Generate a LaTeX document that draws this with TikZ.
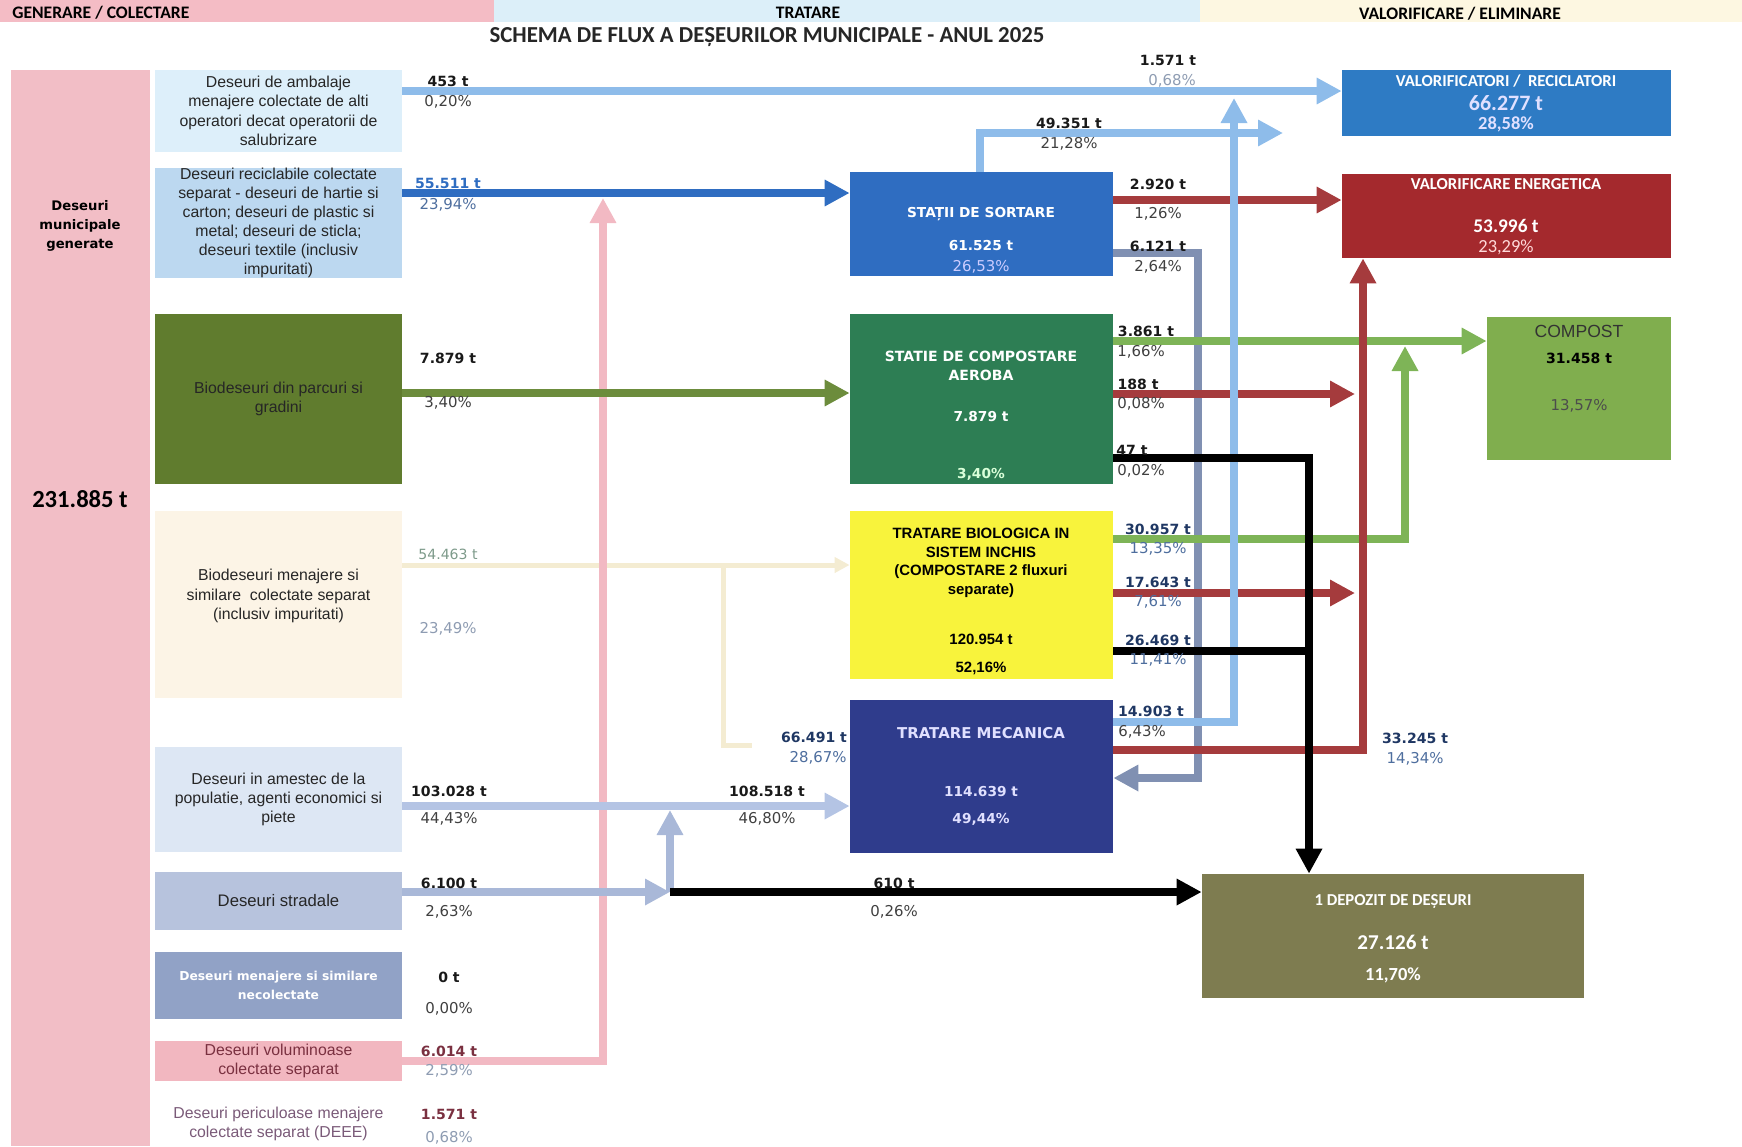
\documentclass[tikz,border=0pt]{standalone}
\usepackage{fontspec}
\setmainfont{Liberation Sans}
\newfontfamily\calib{Carlito}
\newfontfamily\verd{DejaVu Sans}
\usetikzlibrary{arrows.meta,positioning,calc}

\definecolor{hdrpink}{HTML}{F4BCC5}
\definecolor{hdrblue}{HTML}{DCEFF9}
\definecolor{hdrcream}{HTML}{FDF7E1}
\definecolor{colpink}{HTML}{F2BEC6}
\definecolor{srcamb}{HTML}{DDEFFA}
\definecolor{srcrec}{HTML}{BCD8F0}
\definecolor{srcpark}{HTML}{607C2E}
\definecolor{srcbio}{HTML}{FCF4E6}
\definecolor{srcmix}{HTML}{DDE7F4}
\definecolor{srcstr}{HTML}{B7C3DD}
\definecolor{srcnec}{HTML}{91A2C6}
\definecolor{srcvol}{HTML}{F2B7C0}
\definecolor{sortblue}{HTML}{2F6DC1}
\definecolor{aerogreen}{HTML}{2D7E54}
\definecolor{bioyellow}{HTML}{F8F33C}
\definecolor{mecnavy}{HTML}{2F3C8C}
\definecolor{valblue}{HTML}{2E7BC4}
\definecolor{enred}{HTML}{A4292D}
\definecolor{compgreen}{HTML}{80AE4E}
\definecolor{depolive}{HTML}{7E7C50}
\definecolor{fLB}{HTML}{8EBCEA}
\definecolor{fRed}{HTML}{A53B3D}
\definecolor{fGB}{HTML}{8090B2}
\definecolor{fOl}{HTML}{6C8C3C}
\definecolor{fLG}{HTML}{7EB457}
\definecolor{fCr}{HTML}{F4ECD2}
\definecolor{fMix}{HTML}{B4C4E4}
\definecolor{fStr}{HTML}{A9B8D8}
\definecolor{fPk}{HTML}{F2B9C3}
\definecolor{txnavy}{HTML}{1F3763}
\definecolor{txpct}{HTML}{4E6E9E}
\definecolor{txred}{HTML}{7A3040}
\definecolor{txlight}{HTML}{8E9CB2}
\definecolor{txsage}{HTML}{7D9A8A}
\definecolor{txmauve}{HTML}{7A5A78}

\tikzset{
  box/.style={inner sep=0pt, align=center, text=black!85},
  srctxt/.style={font=\fontsize{9}{11}\selectfont},
  hdr/.style={font=\calib\bfseries\fontsize{10}{12}\selectfont, inner sep=0pt},
  flow/.style={line width=1.45mm},
  fat/.style={line width=1.7mm},
  tip/.style={-{Triangle[length=5mm,width=5mm]}},
  num/.style={font=\verd\bfseries\fontsize{8}{10}\selectfont, inner sep=0pt},
  pct/.style={font=\verd\fontsize{8.5}{10}\selectfont, inner sep=0pt},
  ctitle/.style={font=\calib\bfseries\fontsize{9.5}{11}\selectfont, text=white, inner sep=0pt},
  cval/.style={font=\calib\bfseries\fontsize{12}{14}\selectfont, text=white, inner sep=0pt},
  mtitle/.style={font=\verd\bfseries\fontsize{7.8}{10.5}\selectfont, text=white, align=center, inner sep=0pt},
}

\begin{document}
\begin{tikzpicture}[x=0.2mm, y=-0.2mm]
\useasboundingbox (0,0) rectangle (1742,1146);

% header bands
\fill[hdrpink] (0,0) rectangle (494,22);
\fill[hdrblue] (494,0) rectangle (1200,22);
\fill[hdrcream] (1200,0) rectangle (1742,22);
\node[hdr, anchor=west] (hGen) at (12,13) {GENERARE / COLECTARE};
\node[hdr] (hTrat) at (808,13) {TRATARE};
\node[hdr] (hVal) at (1460,14) {VALORIFICARE / ELIMINARE};
\node[font=\calib\bfseries\fontsize{13}{15}\selectfont, text=black!85] (title) at (767,37)
  {SCHEMA DE FLUX A DEȘEURILOR MUNICIPALE - ANUL 2025};

% generated waste column
\node[box, fill=colpink, minimum width=27.8mm, minimum height=215.2mm] (gen) at (80.5,608) {};
\node[font=\verd\bfseries\fontsize{7.5}{10.8}\selectfont, align=center] (genT) at (80,226) {Deseuri\\municipale\\generate};
\node[font=\calib\bfseries\fontsize{14}{16}\selectfont] (genV) at (80,499) {231.885 t};

% sources
\node[box, srctxt, fill=srcamb, minimum width=49.4mm, minimum height=16.4mm] (amb) at (278.5,111)
  {Deseuri de ambalaje\\menajere colectate de alti\\operatori decat operatorii de\\salubrizare};
\node[box, font=\fontsize{9}{10.8}\selectfont, fill=srcrec, minimum width=49.4mm, minimum height=21.2mm] (rec) at (278.5,223)
  {Deseuri reciclabile colectate\\separat - deseuri de hartie si\\carton; deseuri de plastic si\\metal; deseuri de sticla;\\deseuri textile (inclusiv\\impuritati)};
\node[box, srctxt, fill=srcpark, minimum width=49.4mm, minimum height=34mm] (park) at (278.5,399)
  {Biodeseuri din parcuri si\\gradini};
\node[box, srctxt, fill=srcbio, minimum width=49.4mm, minimum height=37.4mm] (bio) at (278.5,604.5) {};
\node[srctxt, align=center, text=black!85] (bioT) at (278.5,596)
  {Biodeseuri menajere si\\similare\ \ colectate separat\\(inclusiv impuritati)};
\node[box, srctxt, fill=srcmix, minimum width=49.4mm, minimum height=21mm] (mix) at (278.5,799.5)
  {Deseuri in amestec de la\\populatie, agenti economici si\\piete};
\node[box, font=\fontsize{9.5}{12}\selectfont, fill=srcstr, minimum width=49.4mm, minimum height=11.6mm] (str) at (278.5,901)
  {Deseuri stradale};
\node[box, font=\verd\bfseries\fontsize{7}{10.5}\selectfont, text=white, fill=srcnec, minimum width=49.4mm, minimum height=13.4mm] (nec) at (278.5,985.5)
  {Deseuri menajere si similare\\necolectate};
\node[box, srctxt, text=txred, fill=srcvol, minimum width=49.4mm, minimum height=8mm] (vol) at (278.5,1061)
  {Deseuri voluminoase\\colectate separat};
\node[box, srctxt, text=txmauve, minimum width=49.4mm, minimum height=8mm] (per) at (278.5,1124)
  {Deseuri periculoase menajere\\colectate separat (DEEE)};

% treatment
\node[box, fill=sortblue, minimum width=52.6mm, minimum height=20.8mm] (sort) at (981.5,224) {};
\node[box, fill=aerogreen, minimum width=52.6mm, minimum height=34mm] (aero) at (981.5,399) {};
\node[box, fill=bioyellow, minimum width=52.6mm, minimum height=33.6mm] (biol) at (981.5,595) {};
\node[box, fill=mecnavy, minimum width=52.6mm, minimum height=30.6mm] (mec) at (981.5,776.5) {};

\node[mtitle] (sortT) at (981,214) {STAȚII DE SORTARE};
\node[mtitle] (sortV) at (981,246) {61.525 t};
\node[pct, text=white!80!blue] (sortP) at (981,267) {26,53\%};
\node[mtitle, font=\verd\bfseries\fontsize{8}{10.5}\selectfont] (aeroT) at (981,366) {STATIE DE COMPOSTARE\\AEROBA};
\node[mtitle] (aeroV) at (981,417) {7.879 t};
\node[mtitle, text=white!85!green] (aeroP) at (981,474) {3,40\%};
\node[font=\bfseries\fontsize{8.5}{10.5}\selectfont, align=center] (biolT) at (981,563)
  {TRATARE BIOLOGICA IN\\SISTEM INCHIS\\(COMPOSTARE 2 fluxuri\\separate)};
\node[font=\bfseries\fontsize{8.5}{10}\selectfont] (biolV) at (981,639) {120.954 t};
\node[font=\bfseries\fontsize{8.5}{10}\selectfont] (biolP) at (981,668) {52,16\%};
\node[mtitle, font=\verd\bfseries\fontsize{8.5}{10}\selectfont, text=white!88!blue] (mecT) at (981,733) {TRATARE MECANICA};
\node[mtitle, text=white!88!blue] (mecV) at (981,791) {114.639 t};
\node[mtitle, text=white!88!blue] (mecP) at (981,819) {49,44\%};

% destinations
\node[box, fill=valblue, minimum width=65.8mm, minimum height=13.2mm] (valr) at (1506.5,103) {};
\node[box, fill=enred, minimum width=65.8mm, minimum height=16.8mm] (energ) at (1506.5,216) {};
\node[box, fill=compgreen, minimum width=36.8mm, minimum height=28.6mm] (comp) at (1579,388.5) {};
\node[box, fill=depolive, minimum width=76.4mm, minimum height=24.8mm] (depo) at (1393,936) {};

\node[ctitle] (valrT) at (1506,81) {VALORIFICATORI / \ RECICLATORI};
\node[cval, font=\calib\bfseries\fontsize{12.5}{14}\selectfont, text=white!88!blue] (valrV) at (1506,103) {66.277 t};
\node[cval, font=\calib\bfseries\fontsize{10.5}{12}\selectfont, text=white!88!blue] (valrP) at (1506,124) {28,58\%};
\node[ctitle] (energT) at (1506,184) {VALORIFICARE ENERGETICA};
\node[cval, font=\calib\bfseries\fontsize{11}{13}\selectfont] (energV) at (1506,226) {53.996 t};
\node[cval, font=\calib\fontsize{10.5}{12}\selectfont, text=white!85!red] (energP) at (1506,247) {23,29\%};
\node[font=\fontsize{10}{12}\selectfont, text=black!80] (compT) at (1579,331) {COMPOST};
\node[num] (compV) at (1579,358) {31.458 t};
\node[pct, text=black!70] (compP) at (1579,406) {13,57\%};
\node[ctitle, font=\calib\bfseries\fontsize{9.5}{11}\selectfont] (depoT) at (1393,902) {1 DEPOZIT DE DEȘEURI};
\node[cval, font=\calib\bfseries\fontsize{12}{14}\selectfont] (depoV) at (1393,942) {27.126 t};
\node[cval, font=\calib\bfseries\fontsize{10.5}{12}\selectfont] (depoP) at (1393,975) {11,70\%};

% flows from sources
\draw[line width=1mm, fCr, -{Triangle[length=3mm,width=3mm]}] (bio.east |- 0,565) -- (biol.west |- 0,565);
\coordinate (bioJ) at (723,565);
\coordinate (bioK) at (752,745);
\draw[line width=1mm, fCr] (bioJ) |- (bioK);
\draw[flow, fPk, tip] (vol.east |- 0,1061) -| (603,198);
\draw[flow, fLB, tip] (amb.east |- 0,91) -- (valr.west |- 0,91);
\draw[flow, sortblue, tip] (rec.east |- 0,193) -- (sort.west |- 0,193);
\draw[flow, fOl, tip] (park.east |- 0,393) -- (aero.west |- 0,393);
\draw[flow, fMix, tip] (mix.east |- 0,806) -- (mec.west |- 0,806);
\coordinate (strJ) at (670,892);
\draw[flow, fStr, tip] (str.east |- 0,892) -- (strJ);
\draw[flow, fStr, tip] (strJ) -- (670,810);
\draw[fat, black, tip] (strJ) -- (depo.west |- 0,892);

% flows from treatment
\coordinate (recEnd) at (1283,133);
\draw[flow, fLB, tip] (sort.north -| 980,0) |- (recEnd);
\draw[flow, fGB, tip] (sort.east |- 0,253) -- (1198,253) |- (mec.east |- 0,778);
\draw[flow, fRed, tip] (sort.east |- 0,200) -- (energ.west |- 0,200);
\draw[flow, fLG, tip] (aero.east |- 0,341) -- (comp.west |- 0,341);
\draw[flow, fRed, tip] (aero.east |- 0,394) -- (1355,394);
\draw[flow, fRed, tip] (biol.east |- 0,593) -- (1355,593);
\draw[flow, fLG, tip] (biol.east |- 0,539) -| (1405,346);
\draw[flow, fRed, tip] (mec.east |- 0,750) -| (energ.south -| 1363,0);
\draw[flow, fLB, tip] (mec.east |- 0,722) -| (1234,98);
\draw[fat, black] (biol.east |- 0,651) -- (1309,651);
\draw[fat, black, tip] (aero.east |- 0,458) -| (depo.north -| 1309,0);

% flow labels
\foreach \x/\y/\t [count=\i] in {448/81/453 t, 1168/60/1.571 t, 1069/123/49.351 t, 1158/184/2.920 t,
    1158/246/6.121 t, 448/358/7.879 t, 1146/331/3.861 t, 1138/384/188 t, 1132/450/47 t,
    449/791/103.028 t, 767/791/108.518 t, 449/883/6.100 t, 894/883/610 t, 449/977/0 t}
  \node[num, text=black!90] (n\i) at (\x,\y) {\t};
\foreach \x/\y/\t [count=\i] in {1158/529/30.957 t, 1158/582/17.643 t, 1158/640/26.469 t,
    1151/711/14.903 t, 1415/738/33.245 t, 814/737/66.491 t}
  \node[num, text=txnavy] (m\i) at (\x,\y) {\t};
\node[num, text=sortblue] (nRec) at (448,183) {55.511 t};
\node[num, font=\verd\fontsize{8}{10}\selectfont, text=txsage] (nBio) at (448,554) {54.463 t};
\node[num, text=txred] (nVol) at (449,1051) {6.014 t};
\node[num, text=txred] (nPer) at (449,1114) {1.571 t};

\foreach \x/\y/\t [count=\i] in {448/102/{0,20}, 1069/144/{21,28}, 1158/214/{1,26}, 1158/267/{2,64},
    448/403/{3,40}, 1141/352/{1,66}, 1141/404/{0,08}, 1141/471/{0,02}, 449/819/{44,43}, 767/819/{46,80},
    449/912/{2,63}, 894/912/{0,26}, 449/1009/{0,00}, 1142/732/{6,43}}
  \node[pct, text=black!75] (p\i) at (\x,\y) {\t\%};
\foreach \x/\y/\t [count=\i] in {1158/549/{13,35}, 1158/602/{7,61}, 1158/660/{11,41}, 1415/759/{14,34},
    818/758/{28,67}, 448/205/{23,94}}
  \node[pct, text=txpct] (q\i) at (\x,\y) {\t\%};
\foreach \x/\y/\t [count=\i] in {1172/81/{0,68}, 448/629/{23,49}, 449/1071/{2,59}, 449/1138/{0,68}}
  \node[pct, text=txlight] (r\i) at (\x,\y) {\t\%};
\end{tikzpicture}
\end{document}
